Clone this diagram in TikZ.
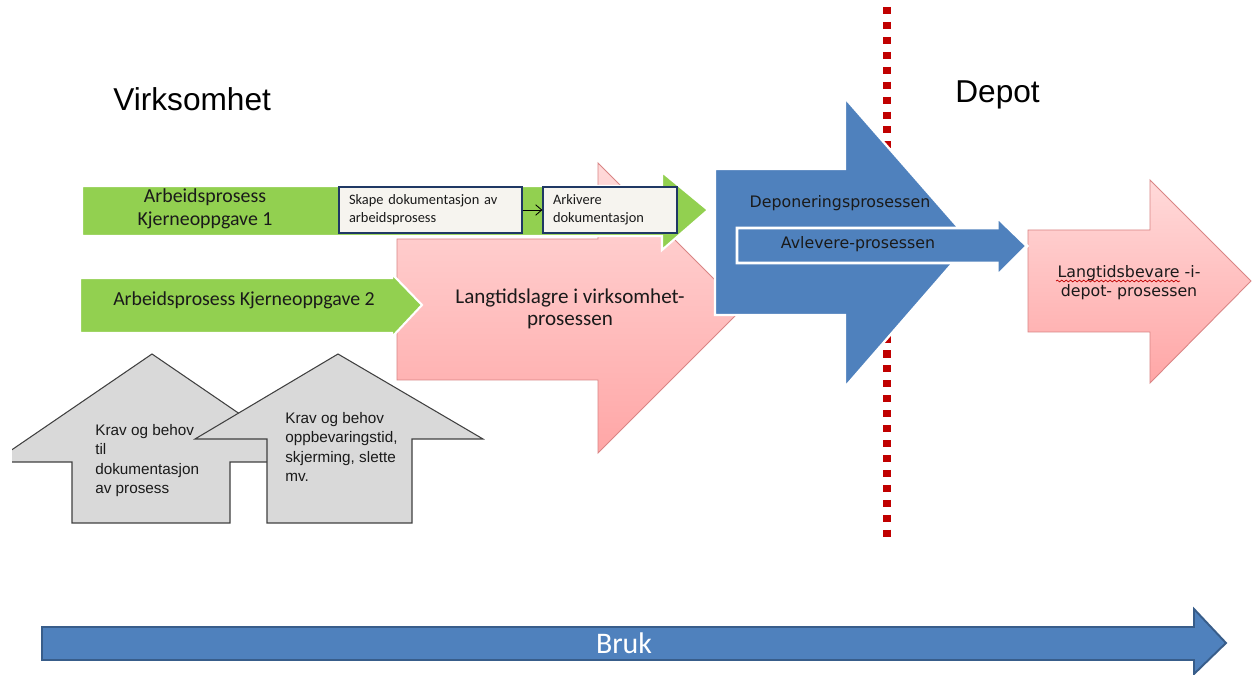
\documentclass[tikz,border=0pt]{standalone}
\usepackage{fontspec}
\setmainfont{Liberation Sans}
\newfontfamily\calfont{Carlito}
\newfontfamily\arialfont{Liberation Sans}
\newfontfamily\dvfont{DejaVu Sans}
\usetikzlibrary{arrows.meta,decorations.pathmorphing}
\definecolor{grn}{HTML}{92D050}
\definecolor{blu}{HTML}{4F81BD}
\definecolor{bluedge}{HTML}{385D8A}
\definecolor{pinktop}{HTML}{FFDADA}
\definecolor{pinkbot}{HTML}{FFA6A6}
\definecolor{pinkedge}{HTML}{D98585}
\definecolor{gry}{HTML}{D9D9D9}
\definecolor{gryedge}{HTML}{404040}
\definecolor{boxfill}{HTML}{F6F4EF}
\definecolor{boxedge}{HTML}{1F3864}
\definecolor{dotred}{HTML}{C00000}
\definecolor{txt}{HTML}{1A1A1A}
\begin{document}
\begin{tikzpicture}[x=0.02cm,y=-0.02cm,
  greenarrow/.style={fill=grn, draw=white, line width=1.2pt, line join=miter},
  pinkarrow/.style={top color=pinktop, bottom color=pinkbot, draw=pinkedge, line width=0.5pt},
  bluearrow/.style={fill=blu, draw=white, line width=1.3pt},
  brukarrow/.style={fill=blu, draw=bluedge, line width=1.1pt},
  house/.style={fill=gry, draw=gryedge, line width=0.6pt},
  docbox/.style={fill=boxfill, draw=boxedge, line width=0.7pt, inner ysep=0pt, inner xsep=0.2cm,
    align=left, font=\calfont\fontsize{8.2}{10.2}\selectfont, text=txt, minimum height=0.92cm},
  title/.style={font=\arialfont\fontsize{18}{20}\selectfont, anchor=base west, inner sep=0pt},
  calt/.style={font=\calfont\fontsize{11.3}{13}\selectfont, text=txt, align=center, inner sep=0pt},
  dvt/.style={font=\dvfont\fontsize{9}{10.8}\selectfont, text=txt, align=center, inner sep=0pt},
  housetext/.style={font=\arialfont\fontsize{8.7}{11}\selectfont, text=txt, align=left, anchor=north west, inner sep=0pt}
]
\useasboundingbox (0,0) rectangle (1252,675);
\fill[white] (0,0) rectangle (1252,675);

% red dotted boundary
\coordinate (dtop) at (887,7);
\coordinate (dbot) at (887,541);
\draw[dotred, line width=4.1pt, dash pattern=on 4pt off 4.5pt] (dtop) -- (dbot);

% houses
\begin{scope}
  \clip (12,0) rectangle (1252,675);
  \draw[house] (-6,462) -- (152,354) -- (310,462) -- (230,462) -- (230,523) -- (72,523) -- (72,462) -- cycle;
\end{scope}
\draw[house] (195,439) -- (338,354) -- (483,439) -- (412,439) -- (412,523) -- (267,523) -- (267,439) -- cycle;

% pink Langtidslagre arrow
\draw[pinkarrow] (397,239) -- (598,239) -- (598,163) -- (743,308) -- (598,453) -- (598,380) -- (397,380) -- cycle;

% green arrows
\draw[greenarrow] (80,278) -- (392,278) -- (392,274) -- (422,305) -- (392,337) -- (392,333) -- (80,333) -- cycle;
\draw[greenarrow] (82,186) -- (662,186) -- (662,172) -- (708,210) -- (662,250) -- (662,236) -- (82,236) -- cycle;

% boxes
\node[docbox, minimum width=3.66cm, text width=3.26cm] (skape) at (430.5,210) {Skape dokumentasjon av\\arbeidsprosess};
\node[docbox, minimum width=2.68cm, text width=2.28cm] (arkiv) at (610,210) {Arkivere\\dokumentasjon};
\draw[-{Straight Barb[length=3.5pt,width=6pt]}, line width=0.5pt, black] (skape.east) -- (arkiv.west);

% blue arrows
\draw[bluearrow] (715,169) -- (845,169) -- (845,98) -- (971,242) -- (845,387) -- (845,315) -- (715,315) -- cycle;
\draw[pinkarrow] (1028,230) -- (1150,230) -- (1150,180) -- (1251,281) -- (1150,383) -- (1150,332) -- (1028,332) -- cycle;
\draw[bluearrow, line width=1.7pt] (737,228) -- (997,228) -- (997,217) -- (1027,246) -- (997,276) -- (997,263) -- (737,263) -- cycle;

% Bruk arrow
\draw[brukarrow] (42,627) -- (1194,627) -- (1194,609) -- (1226,643) -- (1194,674) -- (1194,660) -- (42,660) -- cycle;

% texts
\node[title] (virk) at (113,111) {Virksomhet};
\node[title] (depot) at (955,103) {Depot};
\node[calt] (arb1) at (205,208.5) {Arbeidsprosess\\Kjerneoppgave 1};
\node[calt] (arb2) at (244,300) {Arbeidsprosess Kjerneoppgave 2};
\node[calt, font=\calfont\fontsize{12}{12.5}\selectfont] (lang) at (570,309) {Langtidslagre i virksomhet-\\prosessen};
\node[dvt] (dep) at (840,203) {Deponeringsprosessen};
\node[dvt] (avl) at (858,244) {Avlevere-prosessen};
\node[dvt] (langb) at (1129,283) {Langtidsbevare -i-\\depot- prosessen};
\draw[dotred, decorate, decoration={snake, amplitude=0.5pt, segment length=2.5pt}, line width=0.4pt] (1056,281) -- (1180,281);
\node[font=\calfont\fontsize{17}{19}\selectfont, text=white, inner sep=0pt] (bruk) at (624,643) {Bruk};
\node[housetext] (krav1) at (95,424) {Krav og behov\\til\\dokumentasjon\\av prosess};
\node[housetext] (krav2) at (285,412) {Krav og behov\\oppbevaringstid,\\skjerming, slette\\mv.};
\end{tikzpicture}
\end{document}
